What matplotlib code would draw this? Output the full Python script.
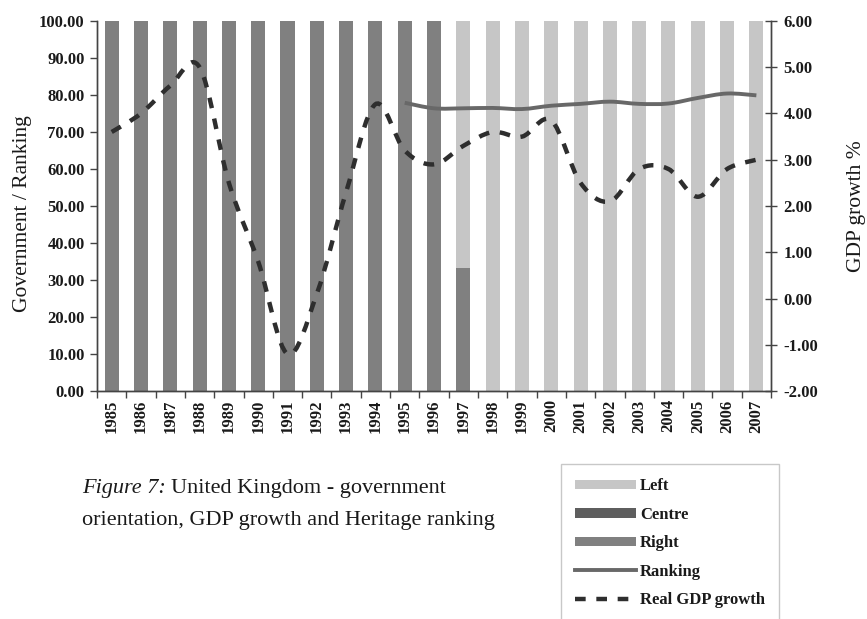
import numpy as np
import matplotlib.pyplot as plt
from matplotlib.path import Path
from matplotlib.patches import PathPatch, Patch
from matplotlib.lines import Line2D

years = [str(y) for y in range(1985, 2008)]

# government orientation shares (%)
left_share = [0] * 12 + [66.67] + [100] * 10
centre_share = [0] * 23
right_share = [100] * 12 + [33.33] + [0] * 10

# Heritage ranking, available from 1995
rank_years = list(range(10, 23))
ranking = [77.9, 76.4, 76.4, 76.5, 76.2, 77.1, 77.6, 78.2, 77.6, 77.7, 79.2, 80.4, 79.9]

# real GDP growth (%)
gdp_growth = [3.6, 4.0, 4.6, 5.0, 2.5, 0.8, -1.2, 0.1, 2.3, 4.2, 3.2, 2.9, 3.3,
              3.6, 3.5, 3.85, 2.5, 2.1, 2.8, 2.8, 2.2, 2.8, 3.0]

c_left = "#c6c6c6"
c_centre = "#5e5e5e"
c_right = "#808080"
c_rank = "#686868"
c_gdp = "#2e2e2e"
c_text = "#1a1a1a"

serif = ["Liberation Serif", "DejaVu Serif"]
plt.rcParams["font.family"] = serif


def smooth_path(x, y):
    """Cubic Bezier path through the points (spreadsheet-style smoothed line)."""
    pts = np.column_stack([x, y]).astype(float)
    n = len(pts)
    verts = [pts[0]]
    codes = [Path.MOVETO]
    for i in range(n - 1):
        p0 = pts[i - 1] if i > 0 else pts[i]
        p1 = pts[i]
        p2 = pts[i + 1]
        p3 = pts[i + 2] if i + 2 < n else pts[i + 1]
        verts += [p1 + (p2 - p0) / 6.0, p2 - (p3 - p1) / 6.0, p2]
        codes += [Path.CURVE4] * 3
    return Path(verts, codes)


fig = plt.figure(figsize=(8.67, 6.19), dpi=100)
ax = fig.add_axes([0.1119, 0.3683, 0.7774, 0.5978])
ax2 = ax.twinx()

x = np.arange(len(years))
w = 0.48
ax.bar(x, right_share, w, color=c_right, zorder=2)
ax.bar(x, centre_share, w, bottom=right_share, color=c_centre, zorder=2)
ax.bar(x, left_share, w, bottom=np.add(right_share, centre_share), color=c_left, zorder=2)

gdp_dash = (0, (2.4, 2.4))
ax.add_patch(PathPatch(smooth_path(rank_years, ranking), fill=False,
                       edgecolor=c_rank, lw=2.8, zorder=3, capstyle="butt"))
ax2.add_patch(PathPatch(smooth_path(x, gdp_growth), fill=False, edgecolor=c_gdp,
                        lw=3.2, linestyle=gdp_dash, zorder=3, capstyle="butt"))

ax.set_xlim(-0.5, len(years) - 0.5)
ax.set_ylim(0, 100)
ax2.set_ylim(-2, 6)
ax.set_yticks(np.arange(0, 101, 10))
ax.set_yticklabels([f"{v:.2f}" for v in np.arange(0, 101, 10)])
ax2.set_yticks(np.arange(-2, 7, 1))
ax2.set_yticklabels([f"{v:.2f}" for v in np.arange(-2, 7, 1)])

ax.set_xticks(x)
ax.set_xticklabels(years, rotation=90)
ax.set_xticks(np.arange(-0.5, len(years), 1), minor=True)
ax.tick_params(axis="x", which="major", length=0, pad=6)
ax.tick_params(axis="x", which="minor", length=5, width=1, color="#444444", direction="out")
ax.tick_params(axis="y", length=5, width=1, color="#444444", direction="out", pad=4)
ax2.tick_params(axis="y", length=8, width=1, color="#444444", direction="inout", pad=5)

for lab in ax.get_xticklabels() + ax.get_yticklabels() + ax2.get_yticklabels():
    lab.set_fontweight("bold")
    lab.set_fontsize(12)
    lab.set_color(c_text)

for a in (ax, ax2):
    a.spines["top"].set_visible(False)
    for s in ("left", "right", "bottom"):
        a.spines[s].set_color("#444444")
        a.spines[s].set_linewidth(1)
    a.patch.set_visible(False)

ax.set_ylabel("Government / Ranking", fontsize=15.5, color=c_text)
ax.yaxis.set_label_coords(-0.096, 0.48)
ax2.set_ylabel("GDP growth %", fontsize=15.5, color=c_text)
ax2.yaxis.set_label_coords(1.113, 0.5)

# caption
t1 = fig.text(0.0946, 0.2036, "Figure 7:", fontsize=16, style="italic",
              color=c_text, va="baseline")
plt.annotate("United Kingdom - government", xy=(1, 0), xycoords=t1,
             xytext=(4, 0), textcoords="offset points", fontsize=16,
             color=c_text, va="bottom", ha="left", annotation_clip=False)
fig.text(0.0946, 0.1519, "orientation, GDP growth and Heritage ranking",
         fontsize=16, color=c_text, va="baseline")

handles = [
    Patch(facecolor=c_left, label="Left"),
    Patch(facecolor=c_centre, label="Centre"),
    Patch(facecolor=c_right, label="Right"),
    Line2D([], [], color=c_rank, lw=2.8, label="Ranking"),
    Line2D([], [], color=c_gdp, lw=3.2, linestyle=gdp_dash, label="Real GDP growth"),
]
leg = fig.legend(handles=handles, loc="upper left", bbox_to_anchor=(0.6470, 0.2504),
                 borderaxespad=0, frameon=True, fancybox=False, handlelength=3.65,
                 handleheight=0.5, handletextpad=0.25, labelspacing=0.75, borderpad=0.85,
                 prop={"family": serif, "weight": "bold", "size": 12})
leg.get_frame().set_edgecolor("#bbbbbb")
leg.get_frame().set_linewidth(1)
for txt in leg.get_texts():
    txt.set_color(c_text)

fig.savefig("out.png", dpi=100, facecolor="white")
